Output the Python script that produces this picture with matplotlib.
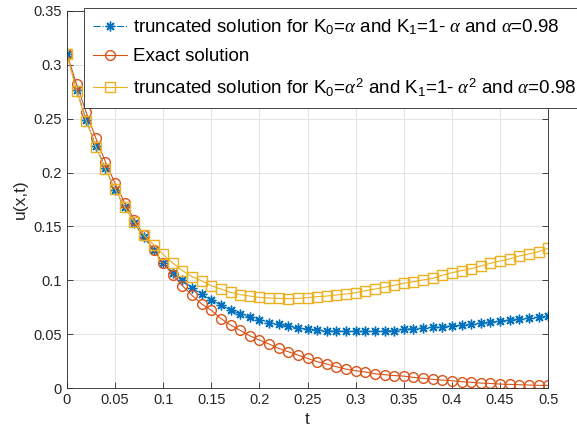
import numpy as np
import matplotlib
matplotlib.use("Agg")
import matplotlib.pyplot as plt
from matplotlib.ticker import FormatStrFormatter

plt.rcParams['font.family'] = ['Liberation Sans', 'DejaVu Sans']
plt.rcParams['mathtext.fontset'] = 'custom'
plt.rcParams['mathtext.rm'] = 'Liberation Sans'
plt.rcParams['mathtext.it'] = 'Liberation Serif:italic'

# data, t = 0:0.01:0.5
t = np.round(np.arange(51) * 0.01, 2)

u_trunc_a = [0.310, 0.277, 0.249, 0.225, 0.204, 0.184, 0.168, 0.153, 0.140, 0.128,
             0.116, 0.107, 0.100, 0.093, 0.087, 0.0817, 0.0771, 0.0724, 0.0687, 0.0658,
             0.0631, 0.0607, 0.0591, 0.0576, 0.0557, 0.0548, 0.0539, 0.0532, 0.0529, 0.0526,
             0.0526, 0.0526, 0.0529, 0.0529, 0.0534, 0.0545, 0.0551, 0.0557, 0.0563, 0.0570,
             0.0576, 0.0585, 0.0591, 0.0600, 0.0610, 0.0622, 0.0631, 0.0641, 0.0650, 0.0656,
             0.0667]

u_exact = [0.310, 0.282, 0.256, 0.232, 0.210, 0.190, 0.172, 0.156, 0.142, 0.128,
           0.116, 0.105, 0.095, 0.086, 0.078, 0.0722, 0.0645, 0.0585, 0.0536, 0.0485,
           0.0446, 0.0409, 0.0368, 0.0337, 0.0306, 0.0275, 0.0245, 0.0223, 0.0198, 0.0176,
           0.0161, 0.0149, 0.0133, 0.0124, 0.0116, 0.0111, 0.0099, 0.0090, 0.0081, 0.0074,
           0.0068, 0.0059, 0.0053, 0.0046, 0.0043, 0.0037, 0.0034, 0.0031, 0.0028, 0.0025,
           0.0025]

u_trunc_a2 = [0.310, 0.276, 0.248, 0.224, 0.203, 0.185, 0.168, 0.154, 0.142, 0.133,
              0.124, 0.116, 0.109, 0.1034, 0.0995, 0.0950, 0.0919, 0.0888, 0.0867, 0.0854,
              0.0842, 0.0836, 0.0833, 0.0830, 0.0833, 0.0839, 0.0848, 0.0854, 0.0864, 0.0873,
              0.0885, 0.0904, 0.0919, 0.0935, 0.0954, 0.0972, 0.0987, 0.1003, 0.1018, 0.1046,
              0.1071, 0.1090, 0.1108, 0.1133, 0.1158, 0.1180, 0.1198, 0.1226, 0.1244, 0.1266,
              0.1297]

labels = [r"truncated solution for K$_0$=$\alpha$ and K$_1$=1- $\alpha$ and $\alpha$=0.98",
          "Exact solution",
          r"truncated solution for K$_0$=$\alpha^2$ and K$_1$=1- $\alpha^2$ and $\alpha$=0.98"]

fig = plt.figure(figsize=(5.77, 4.38), dpi=100)
ax = fig.add_axes([0.116, 0.114, 0.834, 0.861])

ax.plot(t, u_trunc_a, '-.', color='#0072BD', marker=(8, 2, 0), ms=7, mew=1.0, lw=0.8,
        label=labels[0])
ax.plot(t, u_exact, '-', color='#D95319', marker='o', ms=7, mfc='none', lw=0.8, label=labels[1])
ax.plot(t, u_trunc_a2, '-', color='#EDB120', marker='s', ms=6.5, mfc='none', lw=0.8, label=labels[2])

ax.set_xlim(0, 0.5)
ax.set_ylim(0, 0.35)
ax.set_xticks(np.arange(0, 0.501, 0.05))
ax.set_yticks(np.arange(0, 0.351, 0.05))
ax.xaxis.set_major_formatter(FormatStrFormatter('%g'))
ax.yaxis.set_major_formatter(FormatStrFormatter('%g'))
ax.tick_params(direction='in', length=4, width=0.6, labelsize=10.5, colors='#262626',
               top=True, right=True)
ax.grid(True, color='#e3e3e3', lw=0.7)
ax.set_axisbelow(True)
for s in ax.spines.values():
    s.set_color('#262626')
    s.set_linewidth(0.6)

ax.set_xlabel('t', fontsize=12.5, color='#262626')
ax.set_ylabel('u(x,t)', fontsize=12.5, color='#262626')

leg = ax.legend(loc='upper left', bbox_to_anchor=(0.035, 1.008), borderaxespad=0,
                fontsize=13.5, handlelength=1.8, handletextpad=0.3, borderpad=0.5,
                labelspacing=0.6, fancybox=False, framealpha=1, edgecolor='#262626')
leg.get_frame().set_linewidth(0.6)

fig.savefig('out.png', dpi=100)
